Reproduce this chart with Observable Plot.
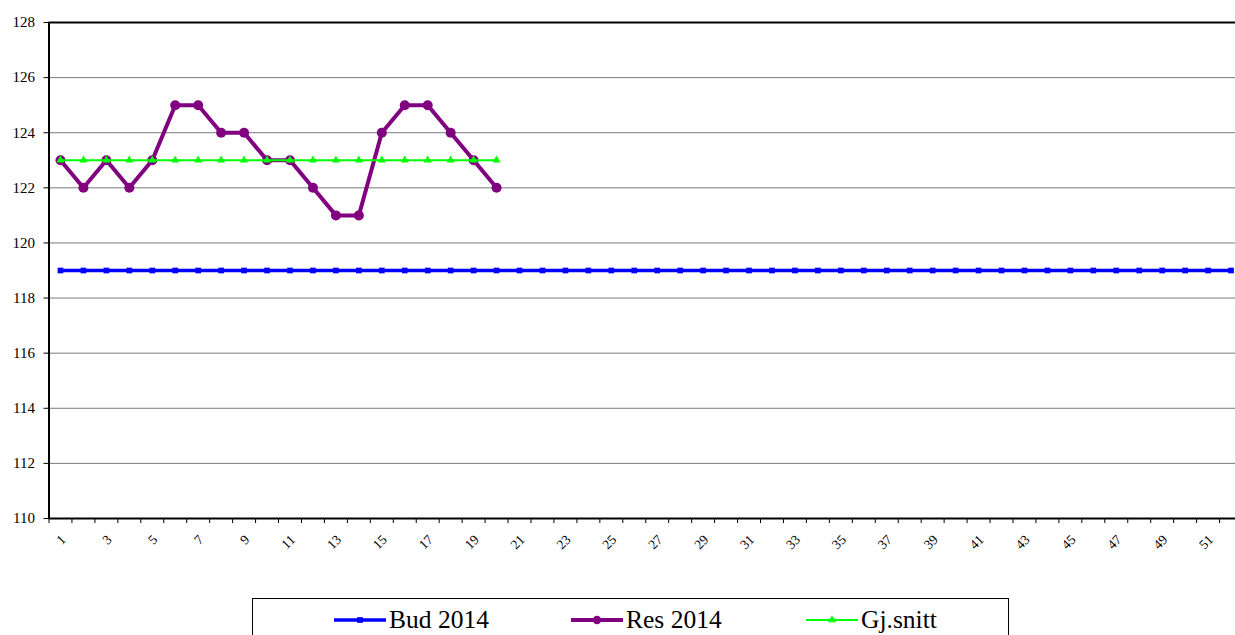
<!DOCTYPE html>
<html>
<head>
<meta charset="utf-8">
<script src="https://cdn.jsdelivr.net/npm/d3@7"></script>
<script src="https://cdn.jsdelivr.net/npm/@observablehq/plot@0.6"></script>
<style>
  html, body { margin: 0; padding: 0; background: #fff; overflow: hidden; }
  body { width: 1235px; height: 635px; position: relative; font-family: "Liberation Serif", "Times New Roman", serif; }
  #chart svg { display: block; overflow: hidden; }
  #chart svg text { font-size: 15px !important; font-family: "Liberation Serif", "Times New Roman", serif !important; }
  #chart svg text[transform*="rotate"] { font-size: 13.5px !important; }
  #legend { position: absolute; left: 252px; top: 598px; width: 757px; height: 50px; border: 1px solid #000; box-sizing: border-box; background: #fff; }
  .item { position: absolute; top: 6px; display: flex; align-items: center; font-size: 25.5px; line-height: 30px; color: #000; }
  .item svg { margin-right: 3px; }
</style>
</head>
<body>
<div id="chart"></div>
<div id="legend"></div>
<script>
// ---- data ----
const weeks = d3.range(1, 53);                 // 1..52
const budWeeks = weeks;
const budValues = weeks.map(() => 119);
const resWeeks = d3.range(1, 21);
const resValues = [123,122,123,122,123,125,125,124,124,123,123,122,121,121,124,125,125,124,123,122];
const avgWeeks = d3.range(1, 21);
const avgValues = avgWeeks.map(() => 123);
const yTicks = [110,112,114,116,118,120,122,124,126,128];
const xLabelWeeks = weeks.filter(w => w % 2 === 1);
const xBoundaries = d3.range(0, 53).map(i => i + 0.5);

const seriesNames = ["Bud 2014", "Res 2014", "Gj.snitt"];
const seriesColors = ["#0000ff", "#800080", "#00ff00"];

const bud = budWeeks.map((w, i) => ({week: w, value: budValues[i]}));
const res = resWeeks.map((w, i) => ({week: w, value: resValues[i]}));
const avg = avgWeeks.map((w, i) => ({week: w, value: avgValues[i]}));

const chart = Plot.plot({
  width: 1235,
  height: 590,
  marginTop: 22,
  marginBottom: 72,
  marginLeft: 48.5,
  marginRight: 0,
  style: {fontFamily: "Liberation Serif, Times New Roman, serif", fontSize: "15px", color: "#000", background: "#fff"},
  x: {domain: [0.5, 52.5], range: [48.5, 1242], label: null},
  y: {domain: [110, 128], label: null},
  marks: [
    Plot.gridY(yTicks, {stroke: "#7a7a7a", strokeOpacity: 1, strokeWidth: 1}),
    Plot.axisY(yTicks, {tickSize: 5, tickPadding: 9, fontSize: 15, label: null}),
    Plot.axisX(xBoundaries, {tickSize: 5, text: null, label: null}),
    Plot.axisX(xLabelWeeks, {tickSize: 0, tickPadding: 19, tickRotate: -45, fontSize: 13.5, dx: 3, label: null}),
    Plot.ruleY([128], {stroke: "#000", strokeWidth: 2}),
    Plot.ruleY([110], {stroke: "#000", strokeWidth: 2}),
    Plot.ruleX([0.5], {stroke: "#000", strokeWidth: 2}),
    Plot.line(bud, {x: "week", y: "value", stroke: seriesColors[0], strokeWidth: 3.5}),
    Plot.dot(bud, {x: "week", y: "value", symbol: "square", r: 3.2, fill: seriesColors[0]}),
    Plot.line(res, {x: "week", y: "value", stroke: seriesColors[1], strokeWidth: 4}),
    Plot.dot(res, {x: "week", y: "value", symbol: "circle", r: 5, fill: seriesColors[1]}),
    Plot.line(avg, {x: "week", y: "value", stroke: seriesColors[2], strokeWidth: 2}),
    Plot.dot(avg, {x: "week", y: "value", symbol: "triangle", r: 3, fill: seriesColors[2]})
  ]
});
document.getElementById("chart").appendChild(chart);

// make sure the tick label sizes are applied on the text nodes themselves
d3.select(chart).selectAll("text").each(function() {
  const rotated = (this.getAttribute("transform") || "").includes("rotate");
  const size = rotated ? 13.5 : 15;
  this.setAttribute("font-size", size);
  this.style.fontSize = size + "px";
});

// ---- legend ----
const legend = d3.select("#legend");
const offsets = [81, 318, 553];
const symbols = [d3.symbolSquare, d3.symbolCircle, d3.symbolTriangle];
const symSizes = [3.2, 4.2, 3];
const lineWidths = [3.5, 4, 2];
seriesNames.forEach((name, i) => {
  const it = legend.append("div").attr("class", "item").style("left", offsets[i] + "px");
  const s = it.append("svg").attr("width", 52).attr("height", 20);
  s.append("line").attr("x1", 0).attr("x2", 52).attr("y1", 10).attr("y2", 10)
    .attr("stroke", seriesColors[i]).attr("stroke-width", lineWidths[i]).attr("stroke-linecap", "round");
  s.append("path").attr("transform", "translate(26,10)")
    .attr("d", d3.symbol(symbols[i], Math.PI * symSizes[i] * symSizes[i])())
    .attr("fill", seriesColors[i]);
  it.append("span").text(name);
});
</script>
</body>
</html>
